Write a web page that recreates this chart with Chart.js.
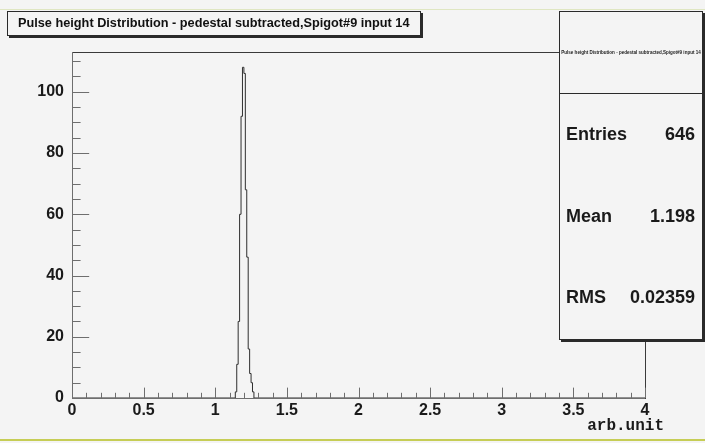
<!DOCTYPE html>
<html>
<head>
<meta charset="utf-8">
<script src="https://cdn.jsdelivr.net/npm/chart.js@4.4.1/dist/chart.umd.min.js"></script>
<style>
  html, body { margin: 0; padding: 0; background: #f4f4f4; }
  #contenedor { width: 705px; height: 443px; }
</style>
</head>
<body>
<div id="contenedor"><canvas id="grafico" width="705" height="443"></canvas></div>
<script>
const titulo = 'Pulse height Distribution - pedestal subtracted,Spigot#9 input 14';
const tituloEjeX = 'arb.unit';

// histograma: borde inferior de cada bin lleno (ancho 0.01) y su contenido
const anchoBin = 0.01;
const bordesBins = [1.14, 1.15, 1.16, 1.17, 1.18, 1.19, 1.20, 1.21, 1.22, 1.23, 1.24, 1.25, 1.26];
const cuentas = [2, 11, 25, 60, 92, 108, 106, 68, 46, 16, 8, 5, 2];

const marcasX = [0, 0.5, 1, 1.5, 2, 2.5, 3, 3.5, 4];
const marcasY = [0, 20, 40, 60, 80, 100];

const estadisticas = [
    ['Entries', '646'],
    ['Mean', '1.198'],
    ['RMS', '0.02359']
];

// cada punto marca el inicio de un bin; el valor se mantiene hasta el siguiente
const puntos = [{ x: 0, y: 0 }];
bordesBins.forEach((b, i) => puntos.push({ x: b, y: cuentas[i] }));
puntos.push({ x: bordesBins[bordesBins.length - 1] + anchoBin, y: 0 });
puntos.push({ x: 4, y: 0 });

const fuenteEjes = { family: 'Liberation Sans, Arial, sans-serif', size: 16, weight: 'bold' };

// caja con sombra al estilo TPave
function caja(ctx, x, y, w, h) {
    ctx.fillStyle = '#2a2a2a';
    ctx.fillRect(x + 2, y + 2, w, h);
    ctx.fillStyle = '#f4f4f4';
    ctx.fillRect(x, y, w, h);
    ctx.strokeStyle = '#2a2a2a';
    ctx.lineWidth = 1;
    ctx.strokeRect(x + 0.5, y + 0.5, w - 1, h - 1);
}

function textoAjustado(ctx, texto, ancho, base) {
    ctx.font = `bold ${base}px Liberation Sans, Arial, sans-serif`;
    const medida = ctx.measureText(texto).width;
    const tam = base * ancho / medida;
    ctx.font = `bold ${tam}px Liberation Sans, Arial, sans-serif`;
}

const marcoRoot = {
    id: 'marcoRoot',
    beforeDraw(chart) {
        const ctx = chart.ctx;
        ctx.save();
        ctx.fillStyle = '#f4f4f4';
        ctx.fillRect(0, 0, chart.width, chart.height);
        ctx.restore();
    },
    afterDatasetsDraw(chart) {
        const ctx = chart.ctx;
        const a = chart.chartArea;
        const sx = chart.scales.x;
        const sy = chart.scales.y;
        ctx.save();
        ctx.lineWidth = 1;

        // marco
        ctx.strokeStyle = '#3a3a3a';
        ctx.strokeRect(Math.round(a.left) + 0.5, Math.round(a.top) + 0.5,
            Math.round(a.right - a.left), Math.round(a.bottom - a.top));

        // ejes
        ctx.strokeStyle = '#6e6e6e';
        ctx.beginPath();
        ctx.moveTo(Math.round(a.left) + 0.5, a.top);
        ctx.lineTo(Math.round(a.left) + 0.5, Math.round(a.bottom) + 0.5);
        ctx.lineTo(a.right, Math.round(a.bottom) + 0.5);
        ctx.stroke();

        // marcas hacia dentro
        const largoX = 0.03 * (a.bottom - a.top);
        const largoY = 0.03 * (a.right - a.left);
        ctx.beginPath();
        for (let i = 0; i <= 40; i++) {
            const px = Math.round(sx.getPixelForValue(i * 0.1)) + 0.5;
            const l = i % 5 === 0 ? largoX : largoX / 2;
            ctx.moveTo(px, a.bottom);
            ctx.lineTo(px, a.bottom - l);
        }
        for (let v = 0; v <= sy.max; v += 5) {
            const py = Math.round(sy.getPixelForValue(v)) + 0.5;
            const l = v % 20 === 0 ? largoY : largoY / 2;
            ctx.moveTo(a.left, py);
            ctx.lineTo(a.left + l, py);
        }
        ctx.stroke();
        ctx.restore();
    },
    afterDraw(chart) {
        const ctx = chart.ctx;
        ctx.save();

        // titulo
        caja(ctx, 7, 11, 414, 25);
        ctx.fillStyle = '#111';
        ctx.textBaseline = 'alphabetic';
        ctx.textAlign = 'left';
        textoAjustado(ctx, titulo, 392, 13);
        ctx.fillText(titulo, 18, 27);

        // caja de estadisticas
        caja(ctx, 559, 11, 144, 329);
        ctx.strokeStyle = '#2a2a2a';
        ctx.beginPath();
        ctx.moveTo(559, 93.5);
        ctx.lineTo(703, 93.5);
        ctx.stroke();
        ctx.fillStyle = '#222';
        ctx.textAlign = 'center';
        textoAjustado(ctx, titulo, 140, 5);
        ctx.fillText(titulo, 631, 54);

        ctx.font = 'bold 18px Liberation Sans, Arial, sans-serif';
        estadisticas.forEach(([nombre, valor], i) => {
            const y = 140 + i * 81.7;
            ctx.fillStyle = '#1a1a1a';
            ctx.textAlign = 'left';
            ctx.fillText(nombre, 566, y);
            ctx.textAlign = 'right';
            ctx.fillText(valor, 695, y);
        });

        // titulo del eje x
        ctx.font = 'bold 16px Liberation Mono, Courier New, monospace';
        ctx.fillStyle = '#1a1a1a';
        ctx.textAlign = 'right';
        ctx.fillText(tituloEjeX, 664, 430);

        // bordes de color del lienzo
        ctx.fillStyle = '#dfe6c2';
        ctx.fillRect(0, 9, chart.width, 1);
        ctx.fillStyle = '#c6cd55';
        ctx.fillRect(0, 439, chart.width, 2);
        ctx.restore();
    }
};

new Chart(document.getElementById('grafico'), {
    type: 'line',
    data: {
        datasets: [{
            data: puntos,
            stepped: 'before',
            borderColor: '#2e2e2e',
            borderWidth: 1,
            pointRadius: 0,
            fill: false
        }]
    },
    options: {
        responsive: false,
        animation: false,
        devicePixelRatio: 1,
        layout: { padding: { left: 0, top: 52, right: 60, bottom: 0 } },
        plugins: { legend: { display: false }, tooltip: { enabled: false } },
        scales: {
            x: {
                type: 'linear',
                min: 0,
                max: 4,
                grid: { display: false, drawTicks: false },
                border: { display: false },
                afterBuildTicks: (scale) => { scale.ticks = marcasX.map(v => ({ value: v })); },
                afterFit: (scale) => { scale.height = 45; },
                ticks: {
                    autoSkip: false,
                    maxRotation: 0,
                    padding: 3,
                    color: '#1a1a1a',
                    font: fuenteEjes,
                    callback: (v) => String(v)
                }
            },
            y: {
                type: 'linear',
                min: 0,
                max: 113,
                grid: { display: false, drawTicks: false },
                border: { display: false },
                afterBuildTicks: (scale) => { scale.ticks = marcasY.map(v => ({ value: v })); },
                afterFit: (scale) => { scale.width = 72; },
                ticks: {
                    autoSkip: false,
                    padding: 8,
                    color: '#1a1a1a',
                    font: fuenteEjes,
                    callback: (v) => String(v)
                }
            }
        }
    },
    plugins: [marcoRoot]
});
</script>
</body>
</html>
